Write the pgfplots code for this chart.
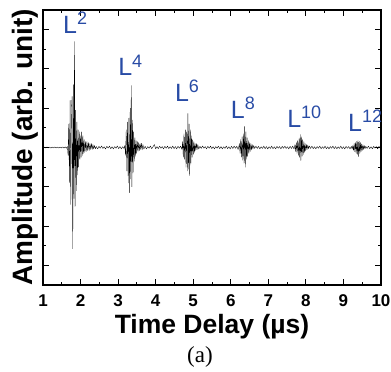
\documentclass[border=0pt]{standalone}
\usepackage{pgfplots}
\pgfplotsset{compat=1.18}
\usepackage{fontspec}
\setmainfont{Liberation Sans}
\newfontfamily\seriffont{Liberation Serif}
\definecolor{lblue}{RGB}{40,75,165}
\newcommand{\Llab}[1]{{\fontsize{25}{25}\selectfont L}{\fontsize{18}{18}\selectfont\raisebox{9pt}{#1}}}
\begin{document}
\begin{tikzpicture}
\begin{axis}[
  at={(0,0)}, anchor=south west,
  width=338pt, height=275pt, scale only axis,
  xmin=1, xmax=10, ymin=-7, ymax=7,
  xtick={1,2,...,10}, minor x tick num=1,
  ytick={-6,-4,...,6}, minor y tick num=1,
  yticklabels={},
  xtick pos=both, ytick pos=both,
  tick align=inside,
  major tick length=6pt, minor tick length=3pt,
  axis line style={line width=1.1pt},
  every tick/.style={line width=0.9pt, black},
  /pgf/number format/assume math mode=true,
  xticklabel style={font=\bfseries\fontsize{17}{17}\selectfont, anchor=base, yshift=-21pt},
  xlabel={Time Delay (µs)},
  ylabel={Amplitude (arb. unit)},
  xlabel style={font=\bfseries\fontsize{26.5}{26.5}\selectfont, at={(axis description cs:0.5,-0.178)}, anchor=base},
  ylabel style={font=\bfseries\fontsize{28}{28}\selectfont, at={(axis description cs:-0.0296,0.5)}, anchor=base, rotate=0},
  clip mode=individual,
]
\addplot[black, line width=0.35pt, line join=round] coordinates {
(1.000,0.00) (1.035,0.02) (1.070,-0.02) (1.105,0.03) (1.140,-0.02) (1.175,0.02) (1.210,-0.03) (1.245,0.02)
(1.280,-0.02) (1.315,0.03) (1.350,-0.02) (1.385,0.02) (1.420,-0.03) (1.455,0.02) (1.490,-0.02) (1.525,0.03)
(1.560,-0.03) (1.595,0.03) (1.625,-0.04) (1.650,0.05)
(1.668,-0.4) (1.686,1.2) (1.704,-1.8) (1.722,2.4) (1.740,-2.9) (1.758,2.0) (1.776,2.6) (1.792,-5.15)
(1.810,3.2) (1.824,-2.6) (1.838,5.4) (1.854,-3.0) (1.870,1.9) (1.886,-2.2) (1.902,1.3) (1.918,-1.4)
(1.934,0.9) (1.950,-1.0) (1.966,0.8) (1.982,-0.6) (1.998,0.6) (2.014,-0.5) (2.030,0.8) (2.046,-0.4)
(2.062,0.6) (2.078,-0.3) (2.094,0.4) (2.112,-0.25) (2.130,0.3) (2.150,-0.2) (2.170,0.3) (2.190,-0.15)
(2.210,0.25) (2.230,-0.15) (2.250,0.2) (2.270,-0.1) (2.290,0.2) (2.310,-0.1) (2.330,0.15) (2.350,-0.08)
(2.370,0.1) (2.395,-0.06) (2.420,0.05)
(2.455,-0.07) (2.490,0.06) (2.525,-0.04) (2.560,0.08) (2.595,-0.05) (2.630,0.04) (2.665,-0.08) (2.700,0.06)
(2.735,-0.03) (2.770,0.07) (2.805,-0.06) (2.840,0.04) (2.875,-0.07) (2.910,0.05) (2.945,-0.04) (2.980,0.08)
(3.015,-0.06) (3.050,0.05) (3.085,-0.07) (3.120,0.04) (3.155,-0.05) (3.180,0.1)
(3.198,-0.4) (3.216,0.9) (3.234,-1.2) (3.252,1.3) (3.270,-1.8) (3.288,1.5) (3.306,-2.3) (3.322,2.0)
(3.336,-1.6) (3.350,3.16) (3.366,-2.0) (3.382,1.4) (3.398,-1.3) (3.414,0.8) (3.430,-0.7) (3.446,0.5)
(3.462,-0.45) (3.478,0.35) (3.494,-0.3) (3.512,0.3) (3.530,-0.2) (3.548,0.25) (3.566,-0.15) (3.584,0.2)
(3.602,-0.1) (3.620,0.22) (3.640,-0.12) (3.660,0.15) (3.685,-0.08)
(3.720,0.06) (3.755,-0.07) (3.790,0.05) (3.825,-0.04) (3.860,0.08) (3.895,-0.06) (3.930,0.04) (3.965,0.15)
(4.000,-0.07) (4.035,0.05) (4.070,-0.06) (4.105,0.07) (4.140,-0.04) (4.175,0.05) (4.210,-0.07) (4.245,0.06)
(4.280,-0.04) (4.315,0.07) (4.350,-0.06) (4.385,0.04) (4.420,-0.05) (4.455,0.08) (4.490,-0.06) (4.525,0.05)
(4.560,-0.07) (4.595,0.06) (4.630,-0.04) (4.665,0.07) (4.700,-0.1)
(4.718,0.3) (4.736,-0.5) (4.754,0.7) (4.772,-0.6) (4.790,0.9) (4.808,-1.0) (4.826,0.8) (4.842,-1.2)
(4.858,1.73) (4.874,-1.1) (4.890,1.2) (4.906,-1.43) (4.922,0.9) (4.938,-0.8) (4.954,0.6) (4.970,-0.5)
(4.986,0.4) (5.002,-0.35) (5.018,0.3) (5.034,-0.25) (5.050,0.2) (5.068,-0.15) (5.086,0.2) (5.104,-0.1)
(5.122,0.15) (5.145,-0.08)
(5.180,0.06) (5.215,-0.05) (5.250,0.08) (5.285,-0.04) (5.320,0.05) (5.355,-0.07) (5.390,0.06) (5.425,-0.04)
(5.460,0.07) (5.495,-0.06) (5.530,0.04) (5.565,-0.07) (5.600,0.05) (5.635,-0.04) (5.670,0.07) (5.705,-0.06)
(5.740,0.05) (5.775,-0.07) (5.810,0.04) (5.845,-0.05) (5.880,0.07) (5.915,-0.06) (5.950,0.04) (5.985,-0.07)
(6.020,0.06) (6.055,-0.05) (6.090,0.07) (6.125,-0.04) (6.160,0.06) (6.195,-0.1) (6.215,0.05)
(6.230,0.2) (6.248,-0.3) (6.266,0.4) (6.284,-0.5) (6.302,0.55) (6.320,-0.65) (6.338,0.7) (6.354,-0.8)
(6.370,1.07) (6.386,-1.0) (6.402,0.8) (6.418,-0.6) (6.434,0.5) (6.450,-0.45) (6.466,0.35) (6.482,-0.3)
(6.498,0.25) (6.516,-0.2) (6.534,0.2) (6.552,-0.12) (6.570,0.15) (6.590,-0.08) (6.610,0.1) (6.635,-0.05)
(6.670,0.07) (6.705,-0.05) (6.740,0.06) (6.775,-0.07) (6.810,0.04) (6.845,-0.05) (6.880,0.07) (6.915,-0.06)
(6.950,0.05) (6.985,-0.07) (7.020,0.04) (7.055,-0.05) (7.090,0.07) (7.125,-0.06) (7.160,0.04) (7.195,-0.07)
(7.230,0.06) (7.265,-0.04) (7.300,0.05) (7.335,-0.07) (7.370,0.06) (7.405,-0.04) (7.440,0.07) (7.475,-0.05)
(7.510,0.04) (7.545,-0.07) (7.580,0.06) (7.615,-0.05) (7.650,0.07) (7.685,-0.08)
(7.710,0.15) (7.728,-0.2) (7.746,0.25) (7.764,-0.3) (7.782,0.35) (7.800,-0.4) (7.818,0.45) (7.834,-0.5)
(7.850,0.66) (7.866,-0.66) (7.882,0.55) (7.898,-0.45) (7.914,0.4) (7.930,-0.35) (7.946,0.3) (7.962,-0.25)
(7.978,0.2) (7.996,-0.18) (8.014,0.15) (8.032,-0.1) (8.050,0.12) (8.070,-0.06) (8.090,0.08)
(8.125,-0.05) (8.160,0.07) (8.195,-0.06) (8.230,0.04) (8.265,-0.07) (8.300,0.05) (8.335,-0.04) (8.370,0.07)
(8.405,-0.06) (8.440,0.04) (8.475,-0.05) (8.510,0.07) (8.545,-0.06) (8.580,0.04) (8.615,-0.07) (8.650,0.05)
(8.685,-0.04) (8.720,0.07) (8.755,-0.06) (8.790,0.05) (8.825,-0.07) (8.860,0.04) (8.895,-0.05) (8.930,0.07)
(8.965,-0.06) (9.000,0.04) (9.035,-0.07) (9.070,0.06) (9.105,-0.04) (9.140,0.05) (9.175,-0.07) (9.210,0.06)
(9.232,-0.08)
(9.250,0.1) (9.268,-0.15) (9.286,0.2) (9.304,-0.22) (9.322,0.26) (9.340,-0.3) (9.356,0.32) (9.372,-0.35)
(9.388,0.36) (9.404,-0.46) (9.420,0.32) (9.436,-0.3) (9.452,0.25) (9.468,-0.22) (9.484,0.18) (9.500,-0.15)
(9.518,0.14) (9.536,-0.1) (9.554,0.1) (9.575,-0.06) (9.595,0.06)
(9.630,-0.05) (9.665,0.07) (9.700,-0.06) (9.735,0.04) (9.770,-0.07) (9.805,0.06) (9.840,-0.04) (9.875,0.05)
(9.910,-0.07) (9.945,0.06) (9.980,-0.04) (10.000,0.02)
};
\node[anchor=base west, inner sep=0, text=lblue] at (axis cs:1.53,5.78) {\Llab{2}};
\node[anchor=base west, inner sep=0, text=lblue] at (axis cs:3.00,3.64) {\Llab{4}};
\node[anchor=base west, inner sep=0, text=lblue] at (axis cs:4.51,2.32) {\Llab{6}};
\node[anchor=base west, inner sep=0, text=lblue] at (axis cs:6.00,1.50) {\Llab{8}};
\node[anchor=base west, inner sep=0, text=lblue] at (axis cs:7.50,1.04) {\Llab{10}};
\node[anchor=base west, inner sep=0, text=lblue] at (axis cs:9.12,0.79) {\Llab{12}};
\node[anchor=base, inner sep=0, font=\seriffont\fontsize{23}{23}\selectfont] at (axis description cs:0.4645,-0.2836) {(a)};
\end{axis}
\pgfresetboundingbox
\path (-43pt,-87pt) rectangle (348pt,285pt);
\end{tikzpicture}
\end{document}
